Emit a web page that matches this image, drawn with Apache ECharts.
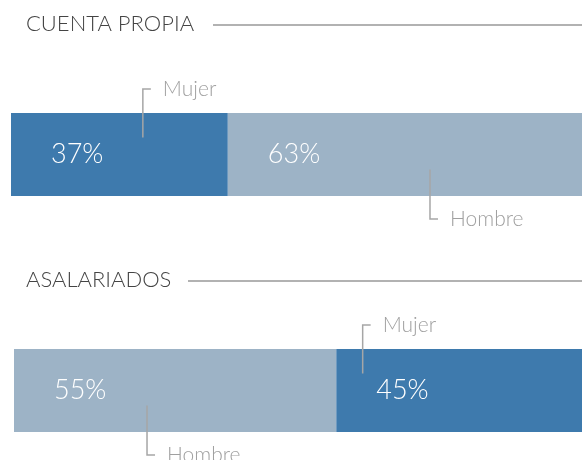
<!DOCTYPE html>
<html>
<head>
<meta charset="utf-8">
<script src="https://cdn.jsdelivr.net/npm/echarts@6/dist/echarts.min.js"></script>
<style>
  html, body { margin: 0; padding: 0; background: #fff; }
  #chart { width: 582px; height: 460px; }
</style>
</head>
<body>
<div id="chart"></div>
<script>
// data
const sectionTitles = ['CUENTA PROPIA', 'ASALARIADOS'];
const cuentaPropiaNames = ['Mujer', 'Hombre'];
const cuentaPropiaValues = [37, 63];
const asalariadosNames = ['Hombre', 'Mujer'];
const asalariadosValues = [55, 45];

const colors = { Mujer: '#3e7aad', Hombre: '#9db3c6' };
const fontFamily = 'Lato, "Open Sans", sans-serif';

// layout of the two blocks (px)
const blocks = [
  { names: cuentaPropiaNames, values: cuentaPropiaValues, left: 11, top: 113, titleTop: 24, lineX: 213,
    calloutAt: [22.5, 71.5] },
  { names: asalariadosNames, values: asalariadosValues, left: 14, top: 349, titleTop: 280, lineX: 188,
    calloutAt: [22.7, 59.5] }
];
const barH = 83;

const grid = [], xAxis = [], yAxis = [], series = [], title = [], graphic = [];

blocks.forEach(function (b, g) {
  grid.push({ left: b.left, top: b.top, height: barH, width: 586, outerBoundsMode: 'none', containLabel: false });
  xAxis.push({ type: 'value', gridIndex: g, min: 0, max: 100, show: false });
  yAxis.push({ type: 'category', gridIndex: g, data: ['x'], show: false });

  title.push({
    text: sectionTitles[g], left: 26, top: b.titleTop - 11, padding: 0,
    textStyle: { color: '#444', fontSize: 22, fontWeight: 300, fontFamily: fontFamily }
  });
  graphic.push({
    type: 'line', shape: { x1: b.lineX, y1: b.titleTop + 1, x2: 582, y2: b.titleTop + 1 },
    style: { stroke: '#666', lineWidth: 1.2 }
  });

  b.names.forEach(function (name, i) {
    series.push({
      type: 'bar', name: name, stack: 's' + g, xAxisIndex: g, yAxisIndex: g,
      barWidth: '100%', data: [b.values[i]],
      itemStyle: { color: colors[name] },
      label: {
        show: true, position: 'insideLeft', distance: 40, formatter: '{c}%',
        color: '#fff', fontSize: 27, fontWeight: 300, fontFamily: fontFamily
      },
      silent: true
    });
  });

  // callouts with leader lines
  series.push({
    type: 'custom', xAxisIndex: g, yAxisIndex: g, z: 5, clip: false, silent: true,
    data: b.names.map(function (name, i) { return [b.calloutAt[i], 0]; }),
    renderItem: function (params, api) {
      const name = b.names[params.dataIndex];
      const p = api.coord([api.value(0), 0]);
      const half = api.size([0, 1])[1] / 2;
      const up = name === 'Mujer';
      let yEnd, yLine;
      if (up) { yLine = p[1] - half - 24; yEnd = p[1] - 17; }
      else { yLine = p[1] + half + 23; yEnd = p[1] + 15; }
      return {
        type: 'group',
        children: [
          { type: 'polyline', shape: { points: [[p[0], yEnd], [p[0], yLine], [p[0] + 8, yLine]] },
            style: { stroke: '#a6a6a6', lineWidth: 1.5, fill: null } },
          { type: 'text', style: { text: name, x: p[0] + 20, y: yLine, verticalAlign: 'middle', align: 'left',
            fill: '#a0a0a0', fontSize: 21, fontWeight: 300, fontFamily: fontFamily } }
        ]
      };
    }
  });
});

const chart = echarts.init(document.getElementById('chart'));
chart.setOption({
  animation: false,
  title: title,
  grid: grid,
  xAxis: xAxis,
  yAxis: yAxis,
  graphic: graphic,
  series: series
});
</script>
</body>
</html>
